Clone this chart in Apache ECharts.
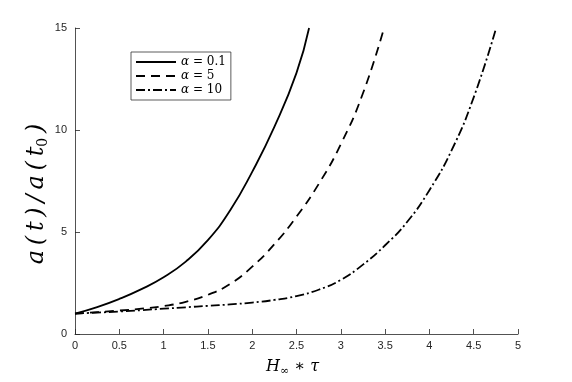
<!DOCTYPE html>
<html>
<head>
<meta charset="utf-8">
<script src="https://cdn.jsdelivr.net/npm/echarts@6/dist/echarts.min.js"></script>
<style>
  html, body { margin: 0; padding: 0; background: #fff; }
  #chart { width: 572px; height: 382px; }
</style>
</head>
<body>
<div id="chart"></div>
<script>
// values
let seriesNames = ['α = 0.1', 'α = 5', 'α = 10'];

let xSolid = [0, 0.25, 0.5, 0.75, 1, 1.25, 1.5, 1.75, 2, 2.25, 2.5, 2.642];
let ySolid = [1, 1.32, 1.72, 2.2, 2.78, 3.55, 4.6, 6.05, 7.95, 10.15, 12.8, 15];

let xDashed = [0, 0.25, 0.5, 0.75, 1, 1.25, 1.5, 1.75, 2, 2.25, 2.5, 2.75, 3, 3.25, 3.488];
let yDashed = [1, 1.07, 1.15, 1.24, 1.37, 1.58, 1.92, 2.45, 3.3, 4.4, 5.75, 7.35, 9.3, 11.8, 15];

let xDashDot = [0, 0.25, 0.5, 0.75, 1, 1.25, 1.5, 1.75, 2, 2.25, 2.5, 2.75, 3, 3.25, 3.5, 3.75, 4, 4.25, 4.5, 4.753];
let yDashDot = [1, 1.05, 1.1, 1.17, 1.24, 1.31, 1.38, 1.45, 1.54, 1.67, 1.86, 2.17, 2.65, 3.4, 4.35, 5.5, 7.05, 9.0, 11.6, 15];

let xTicks = [0, 0.5, 1, 1.5, 2, 2.5, 3, 3.5, 4, 4.5, 5];
let yTicks = [0, 5, 10, 15];

function zip (xs, ys)
{
  return xs.map((x, i) => [x, ys[i]]);
}

let axisColor = '#262626';
let thin = '\u2009';
let chart = echarts.init(document.getElementById('chart'));

let option = {
  animation: false,
  backgroundColor: '#fff',
  grid: {
    left: 75,
    right: 54,
    top: 28,
    bottom: 42
  },
  legend: {
    orient: 'vertical',
    left: 131,
    top: 52,
    padding: [4, 5, 4, 4],
    itemGap: 2,
    itemWidth: 40,
    itemHeight: 12,
    backgroundColor: '#fff',
    borderColor: '#333',
    borderWidth: 0.8,
    data: seriesNames,
    itemStyle: { opacity: 0, borderWidth: 0 },
    textStyle: {
      fontFamily: 'DejaVu Serif',
      fontSize: 12,
      color: '#000'
    },
    formatter: function (name)
    {
      return '{i|α} ' + name.slice(2);
    },
    selectedMode: false
  },
  xAxis: {
    type: 'value',
    min: 0,
    max: 5,
    interval: 0.5,
    name: '{h|H}{s|∞}{t| ∗ τ}',
    nameLocation: 'middle',
    nameGap: 23,
    nameTextStyle: {
      padding: [0, 8, 0, 0],
      rich: {
        h: { fontFamily: 'DejaVu Serif', fontStyle: 'italic', fontSize: 16, color: '#000' },
        s: { fontFamily: 'DejaVu Serif', fontSize: 11, color: '#000', verticalAlign: 'bottom', padding: [9, 0, 0, 0] },
        t: { fontFamily: 'DejaVu Serif', fontStyle: 'italic', fontSize: 16, color: '#000' }
      }
    },
    splitLine: { show: false },
    axisLine: { show: true, lineStyle: { color: axisColor, width: 0.8 } },
    axisTick: { show: true, inside: true, length: 5, lineStyle: { color: axisColor, width: 0.8 } },
    axisLabel: {
      color: axisColor,
      fontFamily: 'Liberation Sans',
      fontSize: 11,
      margin: 6,
      formatter: function (v)
      {
        return xTicks.indexOf(v) >= 0 ? String(v) : '';
      }
    }
  },
  yAxis: {
    type: 'value',
    min: 0,
    max: 15,
    interval: 5,
    name: '{a|' + ['a', '(', 't', ')', '/', 'a', '(', 't'].join(thin) + '}{s|0}{a|' + thin + ')}',
    nameLocation: 'middle',
    nameGap: 25,
    nameMoveOverlap: false,
    nameTextStyle: {
      padding: [0, 26, 0, 0],
      rich: {
        a: { fontFamily: 'DejaVu Serif', fontStyle: 'italic', fontSize: 24, color: '#000' },
        s: { fontFamily: 'DejaVu Serif', fontSize: 14, color: '#000', verticalAlign: 'bottom', padding: [12, 0, 0, 0] }
      }
    },
    splitLine: { show: false },
    axisLine: { show: true, lineStyle: { color: axisColor, width: 0.8 } },
    axisTick: { show: true, inside: true, length: 5, lineStyle: { color: axisColor, width: 0.8 } },
    axisLabel: {
      color: axisColor,
      fontFamily: 'Liberation Sans',
      fontSize: 11,
      margin: 8,
      formatter: function (v)
      {
        return yTicks.indexOf(v) >= 0 ? String(v) : '';
      }
    }
  },
  series: [
    {
      name: seriesNames[0],
      type: 'line',
      smooth: true,
      symbol: 'none',
      data: zip(xSolid, ySolid),
      itemStyle: { color: '#000' },
      lineStyle: { color: '#000', width: 1.8, type: 'solid' }
    },
    {
      name: seriesNames[1],
      type: 'line',
      smooth: true,
      symbol: 'none',
      data: zip(xDashed, yDashed),
      itemStyle: { color: '#000' },
      lineStyle: { color: '#000', width: 1.8, type: [9, 6] }
    },
    {
      name: seriesNames[2],
      type: 'line',
      smooth: true,
      symbol: 'none',
      data: zip(xDashDot, yDashDot),
      itemStyle: { color: '#000' },
      lineStyle: { color: '#000', width: 1.8, type: [9, 3, 2, 3] }
    }
  ]
};

option.legend.textStyle.rich = {
  i: { fontFamily: 'DejaVu Serif', fontStyle: 'italic', fontSize: 12, color: '#000' }
};

chart.setOption(option);
</script>
</body>
</html>
